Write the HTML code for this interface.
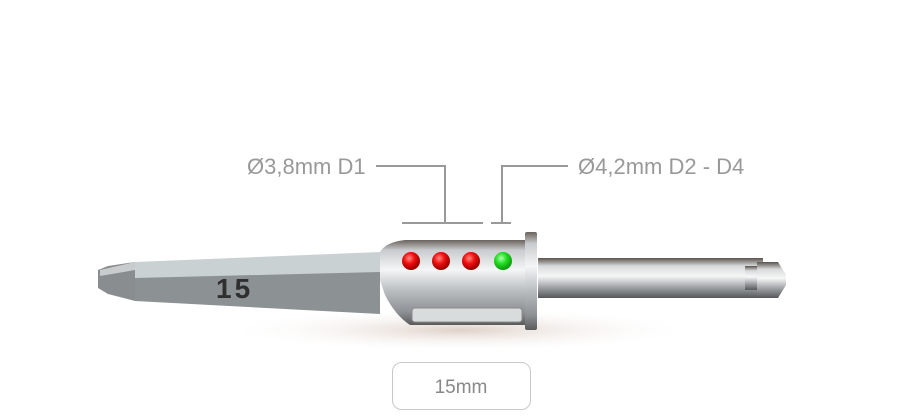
<!DOCTYPE html>
<html><head><meta charset="utf-8"><style>
html,body{margin:0;padding:0;background:#fff;}
svg{display:block;font-family:"Liberation Sans",sans-serif;}
</style></head><body>
<svg width="900" height="417" viewBox="0 0 900 417">
<defs>
<linearGradient id="metal" x1="0" y1="0" x2="0" y2="1">
<stop offset="0" stop-color="#6a625c"/><stop offset="0.12" stop-color="#c9ccce"/><stop offset="0.35" stop-color="#f4f6f6"/><stop offset="0.6" stop-color="#b9bdc0"/><stop offset="0.85" stop-color="#8c9094"/><stop offset="1" stop-color="#5a5a5a"/>
</linearGradient>
<linearGradient id="shaft" x1="0" y1="0" x2="0" y2="1">
<stop offset="0" stop-color="#5a534e"/><stop offset="0.2" stop-color="#d8dadb"/><stop offset="0.45" stop-color="#f6f7f7"/><stop offset="0.75" stop-color="#9a9ea1"/><stop offset="1" stop-color="#55575a"/>
</linearGradient>
<radialGradient id="shadow" cx="0.5" cy="0.5" r="0.5">
<stop offset="0" stop-color="#c9b2a4" stop-opacity="0.6"/><stop offset="1" stop-color="#fff" stop-opacity="0"/>
</radialGradient>
<radialGradient id="red" cx="0.4" cy="0.35" r="0.6"><stop offset="0" stop-color="#ff8a80"/><stop offset="0.5" stop-color="#f01010"/><stop offset="1" stop-color="#a00000"/></radialGradient>
<radialGradient id="green" cx="0.4" cy="0.35" r="0.6"><stop offset="0" stop-color="#b0ffb0"/><stop offset="0.5" stop-color="#22e022"/><stop offset="1" stop-color="#10a010"/></radialGradient>
</defs>
<ellipse cx="460" cy="330" rx="240" ry="22" fill="url(#shadow)"/>
<g fill="#999" font-size="22">
<text x="247" y="174">Ø3,8mm D1</text>
<text x="578" y="174">Ø4,2mm D2 - D4</text>
</g>
<g stroke="#999" stroke-width="2" fill="none">
<polyline points="376,166 445,166 445,223"/>
<line x1="402" y1="223" x2="483" y2="223"/>
<polyline points="568,166 502,166 502,223"/>
<line x1="491" y1="223" x2="511" y2="223"/>
</g>
<polygon points="98,270 108,266 135,262 135,301 108,294 98,288" fill="#8a8d90"/>
<polygon points="100,270 135,262 135,270 100,276" fill="#c8cccd"/>
<polygon points="135,262 380,252 380,280 135,280" fill="#c9d1d3"/>
<polygon points="135,278 380,272 380,314 135,301" fill="#8c9194"/>
<text x="216" y="298" font-size="28" font-weight="bold" fill="#2f2f2f" letter-spacing="3">15</text>
<rect x="538" y="258" width="225" height="40" fill="url(#shaft)"/>
<rect x="745" y="266" width="12" height="24" fill="url(#shaft)"/>
<polygon points="757,262 778,262 786,275 786,285 778,298 757,298" fill="url(#shaft)"/>
<path d="M380,252 Q386,242 405,240 L530,240 L530,325 L410,325 Q395,315 385,295 L380,280 Z" fill="url(#metal)"/>
<rect x="412" y="308" width="110" height="14" rx="3" fill="#d9dcdd" stroke="#8a8a8a"/>
<rect x="525" y="232" width="12" height="98" rx="2" fill="url(#metal)"/>
<circle cx="411" cy="261" r="9" fill="url(#red)"/>
<circle cx="441" cy="261" r="9" fill="url(#red)"/>
<circle cx="471" cy="261" r="9" fill="url(#red)"/>
<circle cx="503" cy="261" r="9" fill="url(#green)"/>
<rect x="392.5" y="362.5" width="138" height="47" rx="9" fill="#fff" stroke="#c8c8c8"/>
<text x="461" y="393" font-size="19" fill="#888" text-anchor="middle">15mm</text>
</svg>
</body></html>
